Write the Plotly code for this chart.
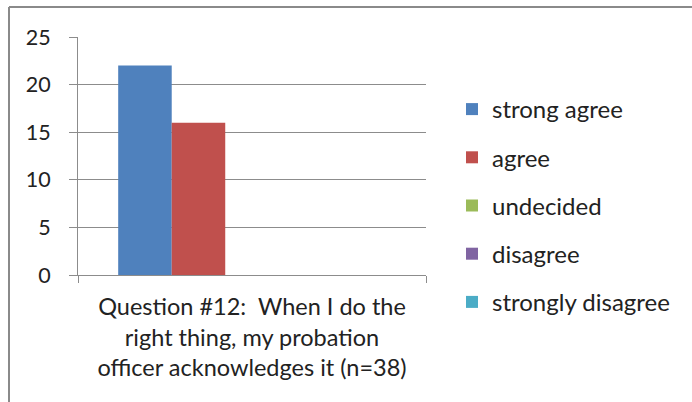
import plotly.graph_objects as go

categories = ["Question #12:\u00a0 When I do the<br>right thing, my probation<br>officer acknowledges it (n=38)"]
series_names = ["strong agree", "agree", "undecided", "disagree", "strongly disagree"]
series_values = [[22], [16], [0], [0], [0]]
series_colors = ["#4F81BD", "#C0504D", "#9BBB59", "#8064A2", "#4BACC6"]
y_ticks = [0, 5, 10, 15, 20, 25]

FONT = "Lato"
W, H = 692, 402
L, R, T, B = 78, 426, 37, 275

fig = go.Figure()
for name, vals, col in zip(series_names, series_values, series_colors):
    fig.add_trace(go.Bar(x=categories, y=vals, name=name, legendgroup=name,
                         marker=dict(color=col, line=dict(width=0))))

def px_x(p):
    return (p - L) / (R - L)

def px_y(p):
    return (B - p) / (B - T)

fig.update_layout(
    width=W, height=H,
    margin=dict(l=L, r=W - R, t=T, b=H - B, pad=0),
    paper_bgcolor="white", plot_bgcolor="white",
    barmode="group", bargap=0.231, bargroupgap=0,
    font=dict(family=FONT, size=20, color="#222222"),
    showlegend=True,
    legend=dict(x=px_x(452), y=px_y(87), xanchor="left", yanchor="top",
                font=dict(family=FONT, size=24, color="#222222"), maxheight=1000,
                traceorder="grouped", tracegroupgap=14, itemwidth=30, bgcolor="rgba(0,0,0,0)"),
    shapes=[
        dict(type="line", xref="paper", yref="paper", x0=px_x(9), x1=px_x(700), y0=px_y(7), y1=px_y(7),
             line=dict(color="#8a8a8a", width=2)),
        dict(type="line", xref="paper", yref="paper", x0=px_x(9), x1=px_x(9), y0=px_y(7), y1=px_y(410),
             line=dict(color="#8a8a8a", width=2)),
    ],
)
fig.update_xaxes(showline=True, linecolor="#8c8c8c", linewidth=1, ticks="outside", tickson="boundaries",
                 ticklen=7, tickcolor="#8c8c8c", showgrid=False, ticklabelstandoff=11,
                 tickfont=dict(family=FONT, size=23.5, color="#222222"))
fig.update_yaxes(range=[0, 25], tickvals=y_ticks, showline=True, linecolor="#8c8c8c", linewidth=1,
                 ticks="outside", ticklen=8, tickcolor="#8c8c8c", showgrid=True, gridcolor="#8c8c8c",
                 gridwidth=1, zeroline=False, ticklabelstandoff=14,
                 tickfont=dict(family=FONT, size=21.5, color="#222222"))

fig.write_html("out.html")
